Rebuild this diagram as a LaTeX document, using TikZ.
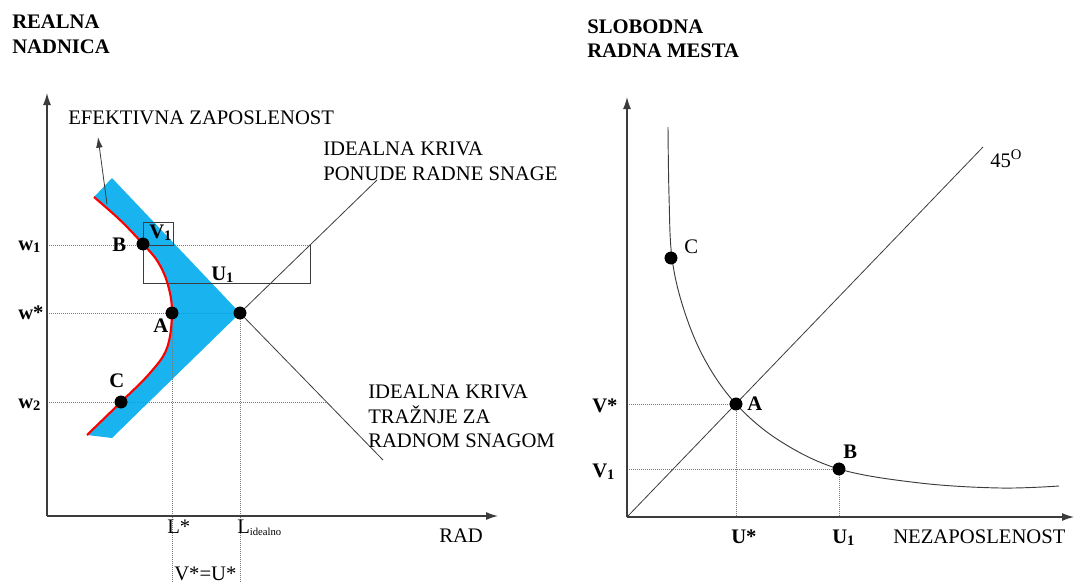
\documentclass[tikz,border=0pt]{standalone}
\usepackage{fontspec}
\setmainfont{Liberation Serif}
\usetikzlibrary{arrows.meta}
\definecolor{blu}{RGB}{25,180,240}
\definecolor{axc}{RGB}{60,60,60}
\definecolor{dotc}{RGB}{120,120,120}
\begin{document}
\begin{tikzpicture}[x=0.75pt,y=-0.75pt,
  txt/.style={font=\fontsize{15.5}{18.5}\selectfont, inner sep=0pt, anchor=base west, align=left},
  btxt/.style={font=\fontsize{15.5}{18}\selectfont\bfseries, inner sep=0pt, anchor=base west, align=left},
  axis/.style={draw=axc, line width=0.9pt, -{Latex[length=9pt,width=6pt]}},
  guide/.style={draw=dotc, line width=0.5pt, densely dotted},
  thin/.style={draw=axc, line width=0.6pt},
  pt/.style={circle, fill=black, inner sep=0pt, minimum size=9.5pt},
  crv/.style={draw=axc, line width=0.7pt}]
\useasboundingbox (0,0) rectangle (1075,583);
% ===== LEFT PANEL =====
\coordinate (O1) at (47,516);
\coordinate (Y1) at (47,93);
\coordinate (X1) at (498,516);
% blue region
\fill[blu] plot[smooth, tension=0.6] coordinates {(94,197) (120,220) (143,244) (158,262) (168,285) (172,313) (167,348) (150,373) (121,402) (87,435)}
  -- (112,438) -- (240,313) -- (112,178) -- cycle;
% guides
\coordinate (w1l) at (47,245); \coordinate (w1r) at (310,245);
\coordinate (wsl) at (47,313);
\coordinate (w2l) at (47,402); \coordinate (w2r) at (327,402);
\coordinate (Lsb) at (172,583); \coordinate (Lib) at (240,583);
\draw[guide] (w1l) -- (w1r);
\draw[guide] (w2l) -- (w2r);
% points
\node[pt] (B) at (143,244) {};
\node[pt] (A) at (172,313) {};
\node[pt] (C) at (121,402) {};
\node[pt] (E) at (240,313) {};
\draw[guide] (wsl) -- (E);
\draw[guide] (A.center) -- (Lsb);
\draw[guide] (E.center) -- (Lib);
% boxes
\coordinate (bx1) at (143,222); \coordinate (bx2) at (173,245);
\draw[thin] (bx1) rectangle (bx2);
\coordinate (bb1) at (143,245); \coordinate (bb2) at (143,283);
\coordinate (bb3) at (310,283); \coordinate (bb4) at (310,245);
\draw[thin] (bb1) -- (bb2) -- (bb3) -- (bb4);
% supply and demand lines
\coordinate (Stop) at (377,180);
\coordinate (Dbot) at (383,460);
\draw[thin] (E.center) -- (Stop);
\draw[thin] (E.center) -- (Dbot);
% red curve
\draw[red, line width=1.6pt] plot[smooth, tension=0.6] coordinates {(94,197) (120,220) (143,244) (158,262) (168,285) (172,313) (167,348) (150,373) (121,402) (87,435)};
\node[pt] at (B) {};
\node[pt] at (A) {};
\node[pt] at (C) {};
\node[pt] at (E) {};
% effective employment arrow
\coordinate (ea1) at (107,204);
\coordinate (ea2) at (98,137);
\draw[thin, -{Latex[length=8pt,width=5pt]}] (ea1) -- (ea2);
% axes
\draw[axis] (O1) -- (Y1);
\draw[axis] (O1) -- (X1);
% texts
\node[btxt] (tRN) at (12,28) {REALNA};
\node[btxt] (tND) at (12,53) {NADNICA};
\node[txt] (tEZ) at (68,124) {EFEKTIVNA ZAPOSLENOST};
\node[txt] (tS1) at (323,155) {IDEALNA KRIVA};
\node[txt] (tS2) at (323,180) {PONUDE RADNE SNAGE};
\node[txt] (tD1) at (368,398) {IDEALNA KRIVA};
\node[txt] (tD2) at (368,423) {TRAŽNJE ZA};
\node[txt] (tD3) at (368,447) {RADNOM SNAGOM};
\node[btxt] (tw1) at (18,250) {w\textsubscript{1}};
\node[btxt] (tws) at (18,319) {w*};
\node[btxt] (tw2) at (18,408) {w\textsubscript{2}};
\node[btxt] (tB) at (112,251) {B};
\node[btxt] (tA) at (153,332) {A};
\node[btxt] (tC) at (109,387) {C};
\node[btxt] (tV1) at (149,238) {V\textsubscript{1}};
\node[btxt] (tU1) at (211,280) {U\textsubscript{1}};
\node[txt] (tLs) at (167,533) {L*};
\node[txt] (tLi) at (237,533) {L\textsubscript{\fontsize{8}{9}\selectfont idealno}};
\node[txt] (tVU) at (174,580) {V*=U*};
\node[txt] (tRAD) at (439,542) {RAD};
% ===== RIGHT PANEL =====
\coordinate (O2) at (627,517);
\coordinate (Y2) at (627,97);
\coordinate (X2) at (1074,517);
\coordinate (L45) at (983,147);
\draw[thin] (O2) -- (L45);
\node[pt] (A2) at (736,404) {};
\node[pt] (B2) at (839,469) {};
\node[pt] (C2) at (671,258) {};
\coordinate (vsl) at (627,404); \coordinate (vsb) at (736,517);
\coordinate (v1l) at (627,469); \coordinate (v1b) at (839,517);
\draw[guide] (vsl) -- (A2.center) -- (vsb);
\draw[guide] (v1l) -- (B2.center) -- (v1b);
\draw[crv] plot[smooth, tension=0.6] coordinates {(668,127) (669,195) (672,258) (684,310) (705,360) (736,404) (780,441) (839,469) (920,483) (1000,488) (1059,486)};
\node[pt] at (A2) {};
\node[pt] at (B2) {};
\node[pt] at (C2) {};
\draw[axis] (O2) -- (Y2);
\draw[axis] (O2) -- (X2);
\node[btxt] (tSL) at (587,33) {SLOBODNA};
\node[btxt] (tRM) at (587,57) {RADNA MESTA};
\node[txt] (t45) at (990,167) {45\raisebox{6pt}{\fontsize{11}{12}\selectfont O}};
\node[txt] (tC2) at (684,253) {C};
\node[btxt] (tA2) at (747,410) {A};
\node[btxt] (tB2) at (843,458) {B};
\node[btxt] (tVs) at (592,412) {V*};
\node[btxt] (tV1r) at (592,477) {V\textsubscript{1}};
\node[btxt] (tUs) at (731,543) {U*};
\node[btxt] (tU1r) at (832,543) {U\textsubscript{1}};
\node[txt] (tNZ) at (893,543) {NEZAPOSLENOST};
\end{tikzpicture}
\end{document}
